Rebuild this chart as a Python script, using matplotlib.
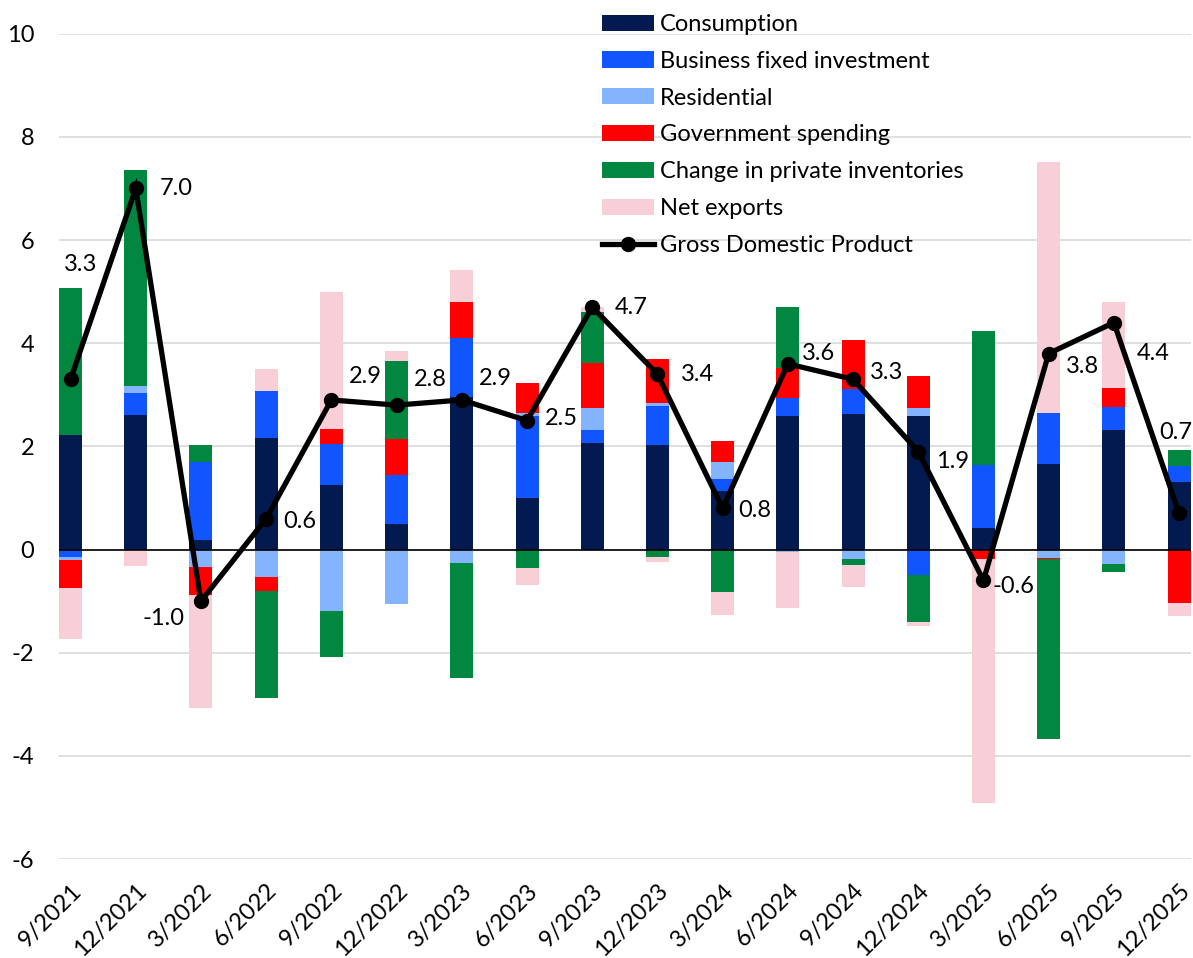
import numpy as np
import matplotlib
matplotlib.use("Agg")
import matplotlib.pyplot as plt
from matplotlib.patches import Patch
from matplotlib.lines import Line2D

# ---------------- data ----------------
quarters = ["9/2021", "12/2021", "3/2022", "6/2022", "9/2022", "12/2022",
            "3/2023", "6/2023", "9/2023", "12/2023", "3/2024", "6/2024",
            "9/2024", "12/2024", "3/2025", "6/2025", "9/2025", "12/2025"]

consumption = [2.22, 2.61, 0.19, 2.17, 1.25, 0.50, 2.96, 0.99, 2.06,
               2.03, 1.14, 2.59, 2.63, 2.59, 0.41, 1.66, 2.32, 1.30]
business_inv = [-0.15, 0.43, 1.50, 0.91, 0.80, 0.94, 1.14, 1.60, 0.26,
                0.76, 0.23, 0.35, 0.49, -0.49, 1.23, 0.98, 0.44, 0.32]
residential = [-0.05, 0.13, -0.34, -0.54, -1.20, -1.05, -0.27, 0.05, 0.43,
               0.05, 0.32, -0.05, -0.18, 0.16, 0.00, -0.17, -0.28, 0.00]
government = [-0.54, 0.00, -0.55, -0.27, 0.28, 0.70, 0.70, 0.58, 0.86,
              0.85, 0.42, 0.57, 0.95, 0.61, -0.19, -0.02, 0.37, -1.04]
inventories = [2.86, 4.19, 0.34, -2.07, -0.88, 1.52, -2.22, -0.35, 1.00,
               -0.15, -0.82, 1.20, -0.11, -0.91, 2.60, -3.49, -0.15, 0.31]
net_exports = [-1.00, -0.32, -2.18, 0.42, 2.67, 0.18, 0.61, -0.33, 0.10,
               -0.10, -0.45, -1.08, -0.44, -0.09, -4.72, 4.87, 1.67, -0.24]
gdp = [3.3, 7.0, -1.0, 0.6, 2.9, 2.8, 2.9, 2.5, 4.7, 3.4, 0.8, 3.6,
       3.3, 1.9, -0.6, 3.8, 4.4, 0.7]

series_names = ["Consumption", "Business fixed investment", "Residential",
                "Government spending", "Change in private inventories",
                "Net exports"]
gdp_name = "Gross Domestic Product"

# ---------------- style ----------------
colors = ["#021A50", "#1155FF", "#85B4FF", "#FF0000", "#01873F", "#F8CFD6"]
# label offsets in pixels (dx right, dy down) relative to each GDP marker
label_offsets_px = [(10, -115), (40, 0), (-37, 17), (34, 3), (34, -23),
                    (34, -26), (34, -21), (34, -2), (39, 0), (40, 0),
                    (32, 2), (31, -10), (34, -7), (34, 10), (30, 6),
                    (34, 13), (39, 31), (-3, -81)]

plt.rcParams['font.family'] = ['Lato', 'DejaVu Sans']
plt.rcParams['axes.unicode_minus'] = False
FS = 17

fig = plt.figure(figsize=(11.93, 9.58), dpi=100)
ax = fig.add_axes([0.0495, 0.1033, 0.9485, 0.8615])

x = np.arange(len(quarters))
width = 0.353
pos_cum = np.zeros(len(quarters))
neg_cum = np.zeros(len(quarters))
all_series = [consumption, business_inv, residential, government,
              inventories, net_exports]
for vals, col in zip(all_series, colors):
    v = np.array(vals, dtype=float)
    bottom = np.where(v >= 0, pos_cum, neg_cum)
    ax.bar(x, v, width=width, bottom=bottom, color=col, linewidth=0,
           zorder=2)
    pos_cum = pos_cum + np.where(v >= 0, v, 0)
    neg_cum = neg_cum + np.where(v < 0, v, 0)

ax.axhline(0, color="black", lw=1.2, zorder=3)
ax.plot(x, gdp, color="black", lw=3.8, marker="o", markersize=10,
        zorder=4, solid_joinstyle="miter")

for xi, val, (dx, dy) in zip(x, gdp, label_offsets_px):
    ax.annotate(f"{val:.1f}", (xi, val), xytext=(dx * 0.72, -dy * 0.72),
                textcoords="offset points", ha="center", va="center",
                fontsize=FS, color="black", zorder=5, annotation_clip=False)

ax.set_ylim(-6, 10)
ax.set_xlim(-width / 2, len(quarters) - 1 + width / 2)
ax.set_yticks(np.arange(-6, 11, 2))
ax.yaxis.grid(True, color="#D9D9D9", lw=1.2, zorder=0)
ax.set_axisbelow(True)
for s in ax.spines.values():
    s.set_visible(False)
ax.tick_params(axis="y", length=0, pad=18, labelsize=FS)
ax.tick_params(axis="x", length=0, pad=15, labelsize=FS)
ax.set_xticks(x)
ax.set_xticklabels(quarters, rotation=45, ha="right", va="top",
                   rotation_mode="anchor")

handles = [Patch(facecolor=c, edgecolor="none") for c in colors]
handles.append(Line2D([0], [0], color="black", lw=3.8, marker="o",
                      markersize=10))
leg = fig.legend(handles, series_names + [gdp_name], loc="upper left",
                 bbox_to_anchor=(0.5046, 0.9855), frameon=False, fontsize=FS,
                 handlelength=2.2, handleheight=0.68, handletextpad=0.25,
                 labelspacing=0.67, borderpad=0, borderaxespad=0)

fig.savefig("out.png", dpi=100)
